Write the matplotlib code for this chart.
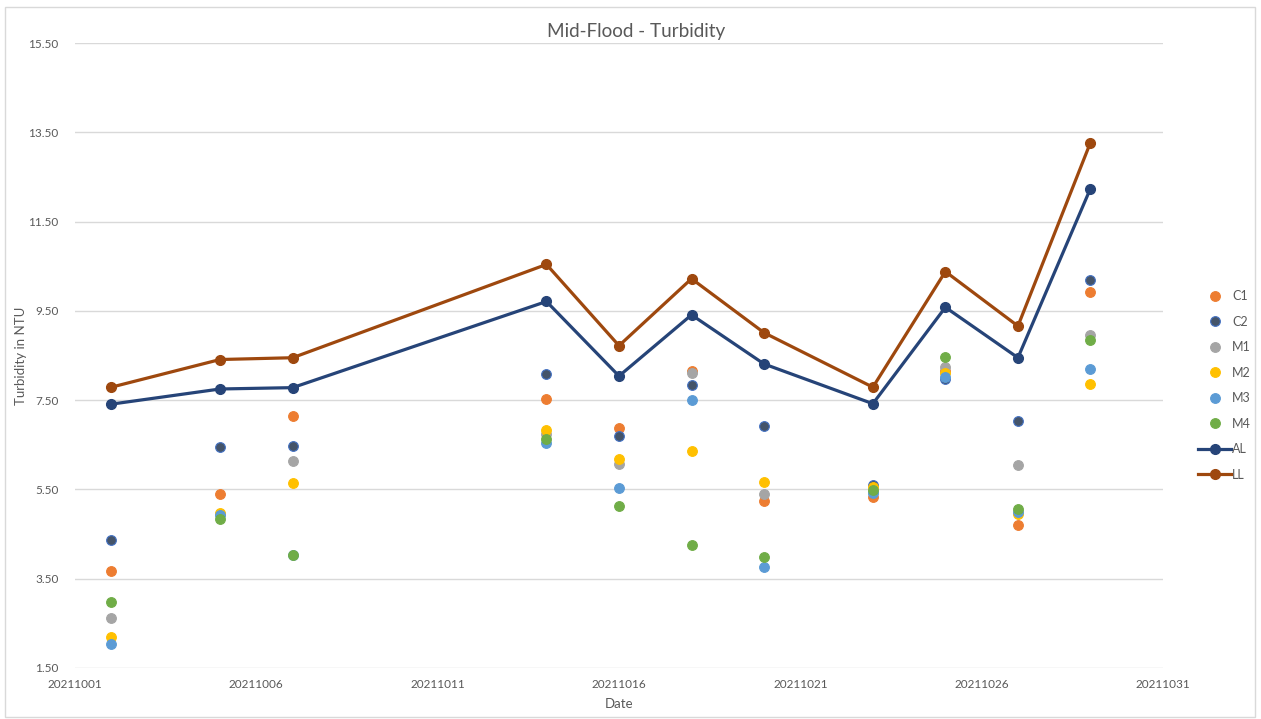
import matplotlib
matplotlib.use("Agg")
import matplotlib.pyplot as plt
from matplotlib.patches import Rectangle

dates = [20211002, 20211005, 20211007, 20211014, 20211016, 20211018,
         20211020, 20211023, 20211025, 20211027, 20211029]

c1 = [3.67, 5.39, 7.15, 7.53, 6.88, 8.16, 5.25, 5.33, 8.15, 4.71, 9.93]
c2 = [4.36, 6.46, 6.48, 8.09, 6.70, 7.85, 6.92, 5.59, 7.98, 7.04, 10.19]
m1 = [2.63, 4.95, 6.14, 6.75, 6.07, 8.11, 5.39, 5.45, 8.25, 6.04, 8.96]
m2 = [2.19, 4.98, 5.64, 6.82, 6.19, 6.37, 5.67, 5.56, 8.11, 4.95, 7.86]
m3 = [2.04, 4.93, 4.04, 6.53, 5.54, 7.50, 3.77, 5.42, 8.02, 5.00, 8.20]
m4 = [2.97, 4.84, 4.04, 6.63, 5.12, 4.25, 3.99, 5.48, 8.47, 5.06, 8.85]
al = [7.41, 7.75, 7.78, 9.71, 8.04, 9.41, 8.31, 7.42, 9.58, 8.45, 12.24]
ll = [7.79, 8.41, 8.45, 10.54, 8.72, 10.22, 9.01, 7.79, 10.38, 9.16, 13.27]

x_ticks = [20211001, 20211006, 20211011, 20211016, 20211021, 20211026, 20211031]
y_ticks = [1.5, 3.5, 5.5, 7.5, 9.5, 11.5, 13.5, 15.5]

text_color = "#595959"
plt.rcParams["font.family"] = ["Lato", "DejaVu Sans"]

fig = plt.figure(figsize=(12.61, 7.19), dpi=100)
ax = fig.add_axes([75 / 1261, 1 - 668 / 719, (1163 - 75) / 1261, (668 - 43) / 719])

points = [
    ("C1", c1, "#ED7D31", "#ED7D31"),
    ("C2", c2, "#44546A", "#4472C4"),
    ("M1", m1, "#A5A5A5", "#A5A5A5"),
    ("M2", m2, "#FFC000", "#FFC000"),
    ("M3", m3, "#5B9BD5", "#5B9BD5"),
    ("M4", m4, "#70AD47", "#70AD47"),
]
for name, vals, face, edge in points:
    ax.plot(dates, vals, linestyle="none", marker="o", ms=7,
            mfc=face, mec=edge, mew=0.8, label=name, zorder=3)

ax.plot(dates, al, color="#264478", lw=2.3, marker="o", ms=7, label="AL", zorder=4)
ax.plot(dates, ll, color="#9E480E", lw=2.3, marker="o", ms=7, label="LL", zorder=4)

ax.set_xlim(x_ticks[0], x_ticks[-1])
ax.set_ylim(y_ticks[0], y_ticks[-1])
ax.set_xticks(x_ticks)
ax.set_xticklabels([str(t) for t in x_ticks])
ax.set_yticks(y_ticks)
ax.set_yticklabels([f"{t:.2f}" for t in y_ticks])
ax.grid(axis="y", color="#D9D9D9", lw=1)
ax.set_axisbelow(True)
for side in ax.spines.values():
    side.set_visible(False)
ax.tick_params(length=0, colors=text_color, labelsize=8.5)
ax.tick_params(axis="y", pad=12)
ax.tick_params(axis="x", pad=8)

# title sits centred on the whole chart, not the plot area
fig.text(636 / 1261, 1 - 32 / 719, "Mid-Flood - Turbidity", color=text_color,
         fontsize=13.6, ha="center", va="center")
ax.set_xlabel("Date", color=text_color, fontsize=9.5, labelpad=6)
ax.set_ylabel("Turbidity in NTU", color=text_color, fontsize=9.5, labelpad=1)

leg = ax.legend(loc="center left", bbox_to_anchor=(1.028, 0.452), frameon=False,
                fontsize=9, labelspacing=1.08, handlelength=2.6, handletextpad=0.1,
                borderaxespad=0)
for t in leg.get_texts():
    t.set_color(text_color)

fig.patches.append(Rectangle((5 / 1261, 2 / 719), 1250 / 1261, 710 / 719,
                             transform=fig.transFigure, fill=False,
                             edgecolor="#D9D9D9", lw=1))

fig.savefig("out.png", dpi=100)
